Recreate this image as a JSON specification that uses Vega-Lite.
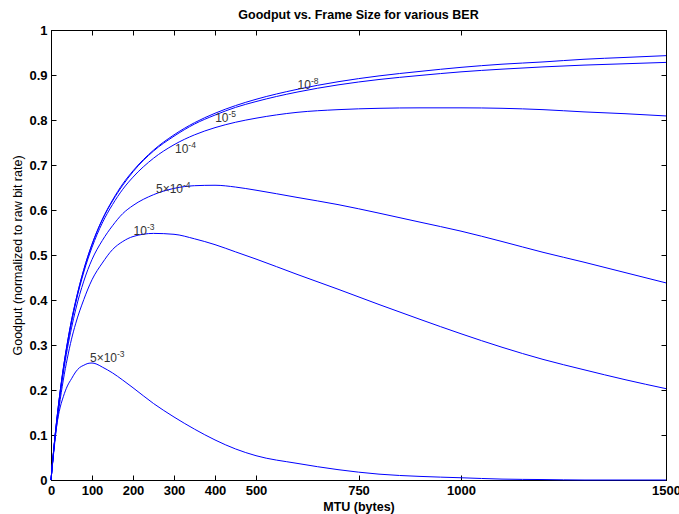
{
  "$schema": "https://vega.github.io/schema/vega-lite/v6.json",
  "width": 615,
  "height": 450,
  "autosize": {"type": "none"},
  "padding": {"left": 51, "top": 30, "right": 13, "bottom": 34},
  "background": "white",
  "title": {"text": "Goodput vs. Frame Size for various BER", "fontSize": 12.5, "font": "Liberation Sans", "fontWeight": "bold", "color": "black", "anchor": "middle", "frame": "group", "baseline": "alphabetic", "offset": 10, "dy": 17},
  "config": {
    "view": {"stroke": "black", "strokeWidth": 1},
    "axis": {"domainColor": "black", "domainWidth": 1, "tickColor": "black", "tickSize": -5, "grid": false, "labelFont": "Liberation Sans", "labelFontSize": 13, "labelFontWeight": "bold", "labelColor": "black", "titleFont": "Liberation Sans", "titleColor": "black", "titleFontSize": 12.5}
  },
  "datasets": {
    "curves": [
      {"ber":"1e-8","L":0,"G":0},{"ber":"1e-8","L":10,"G":0.099},{"ber":"1e-8","L":20,"G":0.18},{"ber":"1e-8","L":30,"G":0.248},{"ber":"1e-8","L":40,"G":0.305},{"ber":"1e-8","L":50,"G":0.355},{"ber":"1e-8","L":60,"G":0.397},{"ber":"1e-8","L":80,"G":0.468},{"ber":"1e-8","L":100,"G":0.524},{"ber":"1e-8","L":125,"G":0.579},{"ber":"1e-8","L":150,"G":0.622},{"ber":"1e-8","L":175,"G":0.658},{"ber":"1e-8","L":200,"G":0.687},{"ber":"1e-8","L":250,"G":0.733},{"ber":"1e-8","L":300,"G":0.767},{"ber":"1e-8","L":350,"G":0.794},{"ber":"1e-8","L":400,"G":0.815},{"ber":"1e-8","L":450,"G":0.832},{"ber":"1e-8","L":500,"G":0.846},{"ber":"1e-8","L":600,"G":0.868},{"ber":"1e-8","L":700,"G":0.885},{"ber":"1e-8","L":800,"G":0.898},{"ber":"1e-8","L":900,"G":0.908},{"ber":"1e-8","L":1000,"G":0.917},{"ber":"1e-8","L":1100,"G":0.924},{"ber":"1e-8","L":1200,"G":0.929},{"ber":"1e-8","L":1300,"G":0.935},{"ber":"1e-8","L":1400,"G":0.939},{"ber":"1e-8","L":1500,"G":0.943},
      {"ber":"1e-5","L":0,"G":0},{"ber":"1e-5","L":10,"G":0.099},{"ber":"1e-5","L":20,"G":0.18},{"ber":"1e-5","L":30,"G":0.248},{"ber":"1e-5","L":40,"G":0.305},{"ber":"1e-5","L":50,"G":0.354},{"ber":"1e-5","L":60,"G":0.396},{"ber":"1e-5","L":80,"G":0.467},{"ber":"1e-5","L":100,"G":0.523},{"ber":"1e-5","L":125,"G":0.578},{"ber":"1e-5","L":150,"G":0.62},{"ber":"1e-5","L":175,"G":0.655},{"ber":"1e-5","L":200,"G":0.685},{"ber":"1e-5","L":250,"G":0.731},{"ber":"1e-5","L":300,"G":0.764},{"ber":"1e-5","L":350,"G":0.791},{"ber":"1e-5","L":400,"G":0.811},{"ber":"1e-5","L":450,"G":0.828},{"ber":"1e-5","L":500,"G":0.841},{"ber":"1e-5","L":600,"G":0.862},{"ber":"1e-5","L":700,"G":0.878},{"ber":"1e-5","L":800,"G":0.89},{"ber":"1e-5","L":900,"G":0.899},{"ber":"1e-5","L":1000,"G":0.907},{"ber":"1e-5","L":1100,"G":0.913},{"ber":"1e-5","L":1200,"G":0.918},{"ber":"1e-5","L":1300,"G":0.922},{"ber":"1e-5","L":1400,"G":0.925},{"ber":"1e-5","L":1500,"G":0.928},
      {"ber":"1e-4","L":0,"G":0},{"ber":"1e-4","L":10,"G":0.098},{"ber":"1e-4","L":20,"G":0.178},{"ber":"1e-4","L":30,"G":0.245},{"ber":"1e-4","L":40,"G":0.301},{"ber":"1e-4","L":50,"G":0.35},{"ber":"1e-4","L":60,"G":0.392},{"ber":"1e-4","L":80,"G":0.462},{"ber":"1e-4","L":100,"G":0.517},{"ber":"1e-4","L":125,"G":0.571},{"ber":"1e-4","L":150,"G":0.612},{"ber":"1e-4","L":175,"G":0.646},{"ber":"1e-4","L":200,"G":0.673},{"ber":"1e-4","L":250,"G":0.715},{"ber":"1e-4","L":300,"G":0.745},{"ber":"1e-4","L":350,"G":0.767},{"ber":"1e-4","L":400,"G":0.783},{"ber":"1e-4","L":450,"G":0.795},{"ber":"1e-4","L":500,"G":0.804},{"ber":"1e-4","L":600,"G":0.817},{"ber":"1e-4","L":700,"G":0.823},{"ber":"1e-4","L":800,"G":0.826},{"ber":"1e-4","L":900,"G":0.827},{"ber":"1e-4","L":1000,"G":0.827},{"ber":"1e-4","L":1100,"G":0.826},{"ber":"1e-4","L":1200,"G":0.823},{"ber":"1e-4","L":1300,"G":0.818},{"ber":"1e-4","L":1400,"G":0.814},{"ber":"1e-4","L":1500,"G":0.809},
      {"ber":"5e-4","L":0,"G":0},{"ber":"5e-4","L":10,"G":0.096},{"ber":"5e-4","L":20,"G":0.173},{"ber":"5e-4","L":30,"G":0.238},{"ber":"5e-4","L":40,"G":0.292},{"ber":"5e-4","L":50,"G":0.338},{"ber":"5e-4","L":60,"G":0.378},{"ber":"5e-4","L":80,"G":0.442},{"ber":"5e-4","L":100,"G":0.49},{"ber":"5e-4","L":125,"G":0.532},{"ber":"5e-4","L":150,"G":0.565},{"ber":"5e-4","L":175,"G":0.592},{"ber":"5e-4","L":200,"G":0.61},{"ber":"5e-4","L":250,"G":0.634},{"ber":"5e-4","L":300,"G":0.648},{"ber":"5e-4","L":350,"G":0.654},{"ber":"5e-4","L":400,"G":0.655},{"ber":"5e-4","L":450,"G":0.651},{"ber":"5e-4","L":500,"G":0.644},{"ber":"5e-4","L":600,"G":0.628},{"ber":"5e-4","L":700,"G":0.612},{"ber":"5e-4","L":800,"G":0.593},{"ber":"5e-4","L":900,"G":0.573},{"ber":"5e-4","L":1000,"G":0.553},{"ber":"5e-4","L":1100,"G":0.53},{"ber":"5e-4","L":1200,"G":0.506},{"ber":"5e-4","L":1300,"G":0.484},{"ber":"5e-4","L":1400,"G":0.461},{"ber":"5e-4","L":1500,"G":0.438},
      {"ber":"1e-3","L":0,"G":0},{"ber":"1e-3","L":10,"G":0.09},{"ber":"1e-3","L":20,"G":0.163},{"ber":"1e-3","L":30,"G":0.222},{"ber":"1e-3","L":40,"G":0.271},{"ber":"1e-3","L":50,"G":0.313},{"ber":"1e-3","L":60,"G":0.347},{"ber":"1e-3","L":80,"G":0.401},{"ber":"1e-3","L":100,"G":0.445},{"ber":"1e-3","L":125,"G":0.482},{"ber":"1e-3","L":150,"G":0.512},{"ber":"1e-3","L":175,"G":0.53},{"ber":"1e-3","L":200,"G":0.541},{"ber":"1e-3","L":250,"G":0.548},{"ber":"1e-3","L":300,"G":0.546},{"ber":"1e-3","L":350,"G":0.536},{"ber":"1e-3","L":400,"G":0.523},{"ber":"1e-3","L":450,"G":0.507},{"ber":"1e-3","L":500,"G":0.491},{"ber":"1e-3","L":600,"G":0.457},{"ber":"1e-3","L":700,"G":0.424},{"ber":"1e-3","L":800,"G":0.39},{"ber":"1e-3","L":900,"G":0.357},{"ber":"1e-3","L":1000,"G":0.325},{"ber":"1e-3","L":1100,"G":0.295},{"ber":"1e-3","L":1200,"G":0.268},{"ber":"1e-3","L":1300,"G":0.245},{"ber":"1e-3","L":1400,"G":0.223},{"ber":"1e-3","L":1500,"G":0.203},
      {"ber":"5e-3","L":0,"G":0},{"ber":"5e-3","L":10,"G":0.095},{"ber":"5e-3","L":20,"G":0.152},{"ber":"5e-3","L":30,"G":0.185},{"ber":"5e-3","L":40,"G":0.209},{"ber":"5e-3","L":50,"G":0.225},{"ber":"5e-3","L":60,"G":0.24},{"ber":"5e-3","L":70,"G":0.25},{"ber":"5e-3","L":80,"G":0.255},{"ber":"5e-3","L":90,"G":0.259},{"ber":"5e-3","L":100,"G":0.26},{"ber":"5e-3","L":110,"G":0.258},{"ber":"5e-3","L":125,"G":0.251},{"ber":"5e-3","L":150,"G":0.238},{"ber":"5e-3","L":175,"G":0.222},{"ber":"5e-3","L":200,"G":0.205},{"ber":"5e-3","L":250,"G":0.17},{"ber":"5e-3","L":300,"G":0.14},{"ber":"5e-3","L":350,"G":0.113},{"ber":"5e-3","L":400,"G":0.089},{"ber":"5e-3","L":450,"G":0.069},{"ber":"5e-3","L":500,"G":0.054},{"ber":"5e-3","L":600,"G":0.037},{"ber":"5e-3","L":700,"G":0.023},{"ber":"5e-3","L":800,"G":0.013},{"ber":"5e-3","L":900,"G":0.008},{"ber":"5e-3","L":1000,"G":0.005},{"ber":"5e-3","L":1100,"G":0.002},{"ber":"5e-3","L":1200,"G":0.001},{"ber":"5e-3","L":1300,"G":0},{"ber":"5e-3","L":1400,"G":0},{"ber":"5e-3","L":1500,"G":0}
    ],
    "labels": [
      {"L":634,"G":0.869,"base":"10","exp":"-8"},
      {"L":433,"G":0.796,"base":"10","exp":"-5"},
      {"L":335,"G":0.727,"base":"10","exp":"-4"},
      {"L":322,"G":0.638,"base":"5×10","exp":"-4"},
      {"L":234,"G":0.544,"base":"10","exp":"-3"},
      {"L":161,"G":0.263,"base":"5×10","exp":"-3"}
    ]
  },
  "layer": [
    {
      "data": {"name": "curves"},
      "mark": {"type": "line", "color": "#0000ff", "strokeWidth": 1, "interpolate": "monotone"},
      "encoding": {
        "x": {"field": "L", "type": "quantitative", "scale": {"domain": [0, 1500], "nice": false, "zero": false},
              "axis": {"values": [0, 100, 200, 300, 400, 500, 750, 1000, 1500], "format": "d", "title": "MTU (bytes)", "titleFontWeight": "bold", "labelPadding": 9, "titlePadding": 3, "labelFlush": false}},
        "y": {"field": "G", "type": "quantitative", "scale": {"domain": [0, 1], "nice": false},
              "axis": {"values": [0, 0.1, 0.2, 0.3, 0.4, 0.5, 0.6, 0.7, 0.8, 0.9, 1], "format": "~g", "title": "Goodput (normalized to raw bit rate)", "titleFontWeight": "normal", "labelPadding": 9, "titlePadding": 4}},
        "detail": {"field": "ber", "type": "nominal"}
      }
    },
    {
      "data": {"name": "labels"},
      "mark": {"type": "text", "align": "right", "baseline": "alphabetic", "font": "Liberation Sans", "fontSize": 12, "color": "#333333"},
      "encoding": {
        "x": {"field": "L", "type": "quantitative", "axis": {"orient": "top", "values": [0, 100, 200, 300, 400, 500, 750, 1000, 1500], "labels": false, "title": null}},
        "y": {"field": "G", "type": "quantitative", "axis": {"orient": "right", "values": [0, 0.1, 0.2, 0.3, 0.4, 0.5, 0.6, 0.7, 0.8, 0.9, 1], "labels": false, "title": null}},
        "text": {"field": "base", "type": "nominal"}
      }
    },
    {
      "data": {"name": "labels"},
      "mark": {"type": "text", "align": "left", "baseline": "alphabetic", "font": "Liberation Sans", "fontSize": 8.5, "color": "#333333", "dy": -5},
      "encoding": {
        "x": {"field": "L", "type": "quantitative", "axis": null},
        "y": {"field": "G", "type": "quantitative", "axis": null},
        "text": {"field": "exp", "type": "nominal"}
      }
    }
  ],
  "resolve": {"axis": {"x": "independent", "y": "independent"}}
}
